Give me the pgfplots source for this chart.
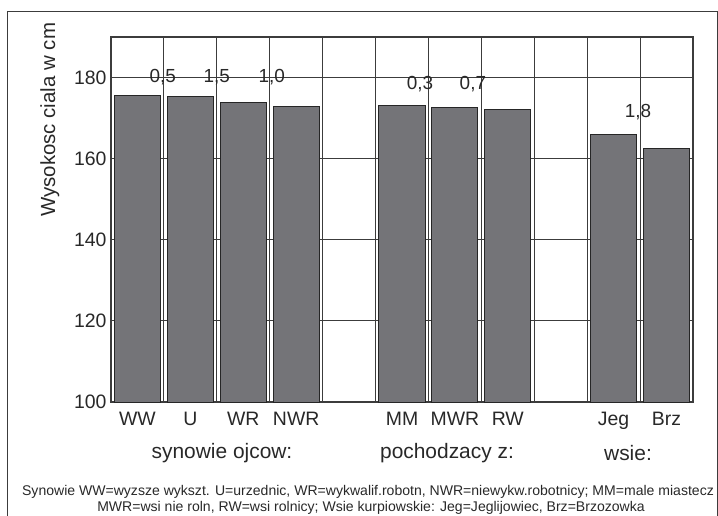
\documentclass[border=0pt]{standalone}
\usepackage{fontspec}
\setmainfont{Liberation Sans}
\usepackage{pgfplots}
\pgfplotsset{compat=1.18}
\definecolor{barfill}{RGB}{116,116,120}
\definecolor{gridc}{RGB}{60,60,60}
\definecolor{txt}{RGB}{40,40,40}
\begin{document}
\begin{tikzpicture}
\useasboundingbox (-111bp,-114bp) rectangle (607bp,402bp);
\draw[gridc, line width=1bp] (-103bp,-120bp) -- (-103bp,390bp) -- (606bp,390bp) -- (606bp,-120bp);
\begin{axis}[
  at={(0,0)}, anchor=south west,
  width=582bp, height=365bp, scale only axis,
  xmin=-0.5, xmax=10.5, ymin=100, ymax=190,
  ytick={120,140,160,180},
  extra y ticks={100},
  extra y tick style={grid=none},
  xtick={0,1,2,3,5,6,7,9,10},
  xticklabels={WW,U,WR,NWR,MM,MWR,RW,Jeg,Brz},
  minor xtick={-0.5,0.5,...,10.5},
  xminorgrids, ymajorgrids,
  major tick length=0pt, minor tick length=0pt,
  grid style={gridc, line width=1bp},
  minor grid style={gridc, line width=1bp},
  axis line style={gridc, line width=1.1bp},
  /pgf/number format/assume math mode=true,
  tick label style={txt, font=\fontsize{19.5}{22}\selectfont},
  yticklabel style={xshift=-1bp},
  xticklabel style={yshift=-7bp},
  ylabel={Wysokosc ciala w cm},
  ylabel style={txt, font=\fontsize{20.5}{22}\selectfont, at={(axis description cs:-0.105,0.773)}, anchor=center},
  ybar, bar width=0.87,
  clip=true,
]
\addplot[fill=barfill, draw=black!85, line width=1bp] coordinates {
  (0,175.6) (1,175.3) (2,173.9) (3,172.8)
  (5,173.2) (6,172.6) (7,172.1)
  (9,165.9) (10,162.6)
};
\begin{scope}[every node/.style={txt, font=\fontsize{19}{20}\selectfont}]
\node at (axis cs:0.48,180.0) {0,5};
\node at (axis cs:1.5,180.0) {1,5};
\node at (axis cs:2.54,180.0) {1,0};
\node at (axis cs:5.34,178.3) {0,3};
\node at (axis cs:6.34,178.3) {0,7};
\node at (axis cs:9.46,171.6) {1,8};
\end{scope}
\end{axis}
\begin{scope}[every node/.style={txt, font=\fontsize{21}{24}\selectfont}]
\node at (111bp,-51bp) {synowie ojcow:};
\node at (336bp,-51bp) {pochodzacy z:};
\node at (517bp,-51bp) {wsie:};
\end{scope}
\begin{scope}[every node/.style={txt, font=\fontsize{14.1}{16}\selectfont, inner sep=0pt}]
\node at (257bp,-90bp) {Synowie WW=wyzsze wykszt. U=urzednic, WR=wykwalif.robotn, NWR=niewykw.robotnicy; MM=male miastecz};
\node at (260bp,-106bp) {MWR=wsi nie roln, RW=wsi rolnicy; Wsie kurpiowskie: Jeg=Jeglijowiec, Brz=Brzozowka};
\end{scope}
\end{tikzpicture}
\end{document}
